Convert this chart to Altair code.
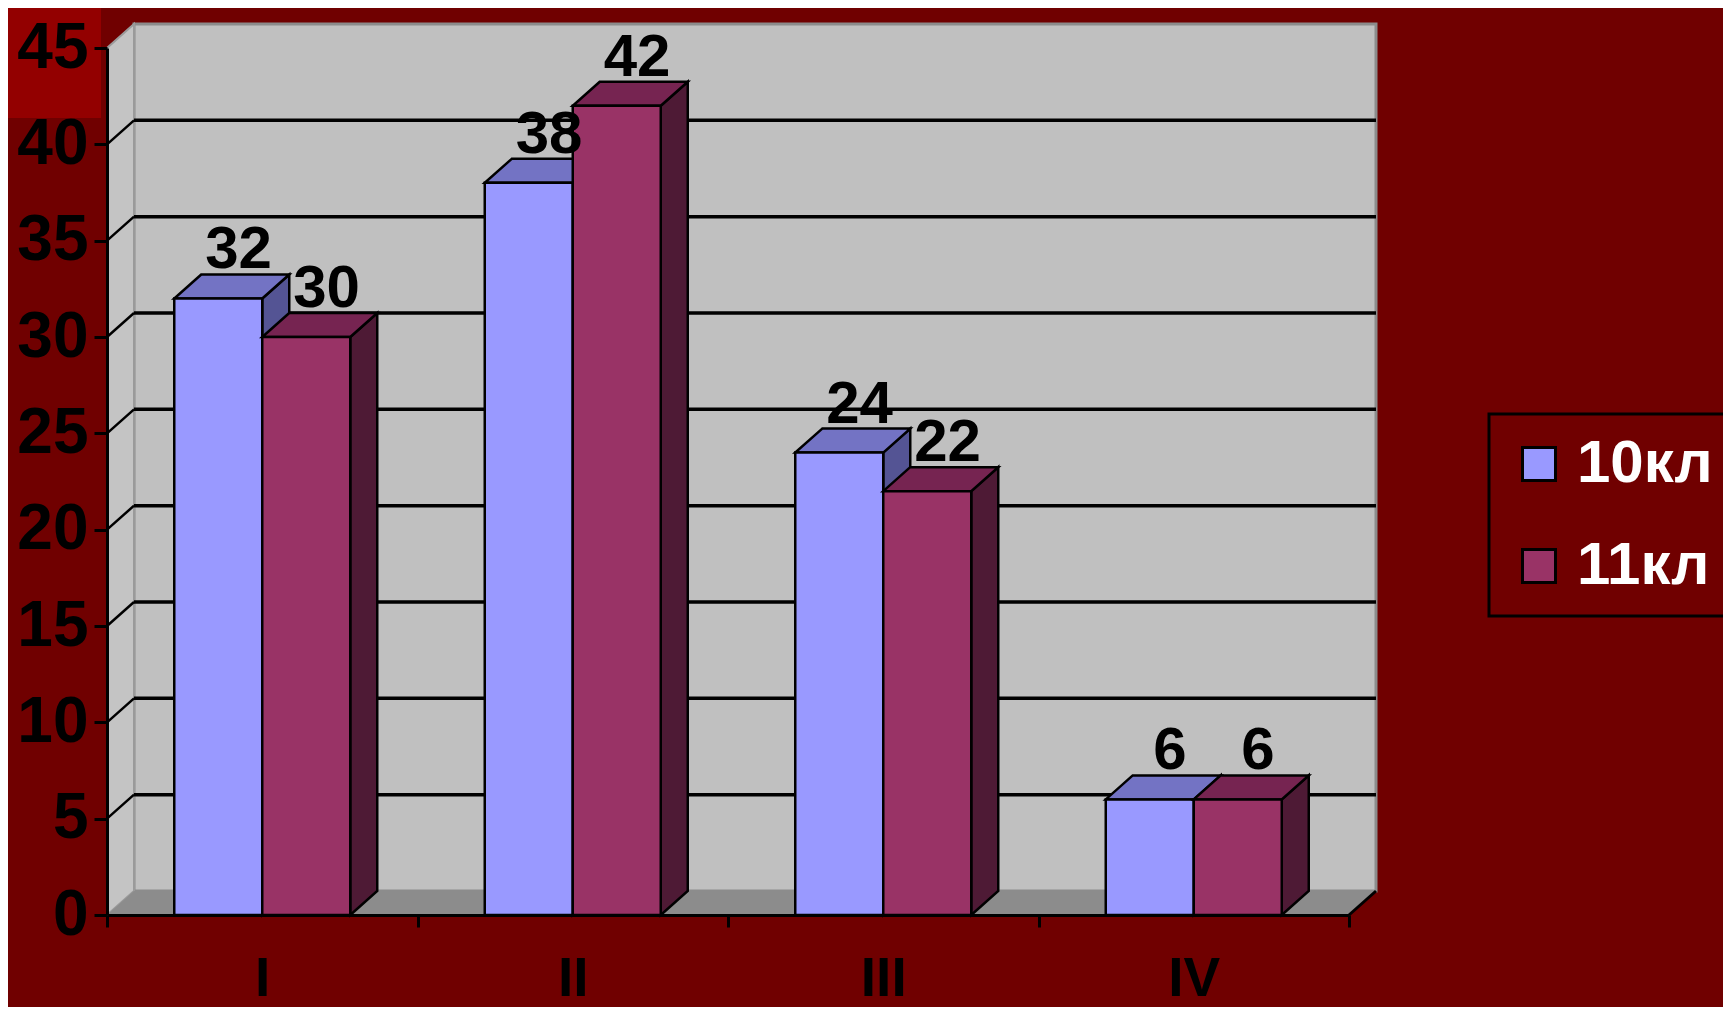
import altair as alt
import pandas as pd

# ---------------- data ----------------
categories = ["I", "II", "III", "IV"]
series = ["10кл", "11кл"]
values_10 = [32, 38, 24, 6]
values_11 = [30, 42, 22, 6]
y_ticks = [0, 5, 10, 15, 20, 25, 30, 35, 40, 45]

# ---------------- styles ----------------
front_colors = ["#9999FF", "#993366"]
top_colors = ["#7373C4", "#762451"]
side_colors = ["#545494", "#4E1A35"]
BG = "#700000"
FONT = "Liberation Sans"

W, H = 1242, 867
X_MAX = len(categories)
Y_MAX = 45
px_x = W / X_MAX
px_y = H / Y_MAX
WALL_DX = 27 / px_x
WALL_DY = 24 / px_y
BAR_DX = 27 / px_x
BAR_DY = 24 / px_y
BAR_W = 88 / px_x

xs = alt.Scale(domain=[0, X_MAX], nice=False, zero=False)
ys = alt.Scale(domain=[0, Y_MAX], nice=False, zero=False)

label_expr = "[" + ",".join(f"'{c}'" for c in categories) + "][datum.value] || ''"

XAXIS = alt.Axis(values=list(range(X_MAX + 1)), labelExpr=label_expr, title=None,
                 labelOffset=px_x / 2, labelFlush=False, labelOverlap=False,
                 labelBound=False, labelFont=FONT, labelFontSize=55,
                 labelFontWeight="bold", labelColor="black", labelPadding=25,
                 tickColor="black", tickWidth=3, tickSize=12,
                 domainColor="black", domainWidth=3, grid=False, zindex=1)
YAXIS = alt.Axis(values=y_ticks, title=None, labelFont=FONT, labelFontSize=64,
                 labelFontWeight="bold", labelColor="black", labelPadding=6,
                 labelFlush=False, labelOverlap=False, labelBound=False,
                 tickColor="black", tickWidth=3, tickSize=13,
                 domainColor="black", domainWidth=3, grid=False, zindex=1)


def X(f):
    return alt.X(f, scale=xs, axis=XAXIS, title=None)


def Y(f):
    return alt.Y(f, scale=ys, axis=YAXIS, title=None)


# ---------------- tables ----------------
bar_rows, side_rows, top_rows = [], [], []
for j, (s, vals) in enumerate(zip(series, [values_10, values_11])):
    for i, (c, v) in enumerate(zip(categories, vals)):
        x0 = i + 0.5 + (j - 1) * BAR_W
        x1 = x0 + BAR_W
        bid = f"{s}-{c}"
        bar_rows.append(dict(series=s, cat=c, value=v, x0=x0, x1=x1,
                             xl=(x0 + x1) / 2 + 0.75 * BAR_DX, yl=v + BAR_DY,
                             label=str(v)))
        side_rows.append(dict(series=s, bar=bid, x=x1, ylo=0, yhi=v))
        side_rows.append(dict(series=s, bar=bid, x=x1 + BAR_DX, ylo=BAR_DY, yhi=v + BAR_DY))
        top_rows.append(dict(series=s, bar=bid, y=v, xa=x0, xb=x1))
        top_rows.append(dict(series=s, bar=bid, y=v + BAR_DY, xa=x0 + BAR_DX, xb=x1 + BAR_DX))
bars = pd.DataFrame(bar_rows)
sides = pd.DataFrame(side_rows)
tops = pd.DataFrame(top_rows)

wall = pd.DataFrame([dict(x0=WALL_DX, x1=X_MAX + WALL_DX, y0=WALL_DY, y1=Y_MAX + WALL_DY)])
left_wall = pd.DataFrame([dict(x=0, ylo=0, yhi=Y_MAX), dict(x=WALL_DX, ylo=WALL_DY, yhi=Y_MAX + WALL_DY)])
floor = pd.DataFrame([dict(y=0, xa=0, xb=X_MAX), dict(y=WALL_DY, xa=WALL_DX, xb=X_MAX + WALL_DX)])
grid = pd.DataFrame([dict(v=v, yb=v + WALL_DY, x0=WALL_DX, x1=X_MAX + WALL_DX, xa=0, xb=WALL_DX)
                     for v in y_ticks[1:-1]])
right_edge = pd.DataFrame([dict(x=X_MAX, x2=X_MAX + WALL_DX, y=0, y2=WALL_DY)])
one = pd.DataFrame([dict(a=1)])

# ---------------- layers ----------------
deco_block = alt.Chart(one).mark_rect(color="#930000").encode(
    x=alt.value(-110), x2=alt.value(-6), y=alt.value(-50), y2=alt.value(70))

back = alt.Chart(wall).mark_rect(fill="#C0C0C0", stroke="#8C8C8C", strokeWidth=3).encode(
    x=X("x0:Q"), x2="x1:Q", y=Y("y0:Q"), y2="y1:Q")

lwall = alt.Chart(left_wall).mark_area(fill="#C4C4C4", stroke="#9A9A9A", strokeWidth=2).encode(
    x=X("x:Q"), y=Y("ylo:Q"), y2="yhi:Q")

floor_l = alt.Chart(floor).mark_area(orient="horizontal", fill="#8C8C8C").encode(
    y=Y("y:Q"), x=X("xa:Q"), x2="xb:Q")

grid_back = alt.Chart(grid).mark_rule(color="black", strokeWidth=3.5).encode(
    x=X("x0:Q"), x2="x1:Q", y=Y("yb:Q"))

grid_side = alt.Chart(grid).mark_rule(color="black", strokeWidth=2.5).encode(
    x=X("xa:Q"), x2="xb:Q", y=Y("v:Q"), y2="yb:Q")

redge = alt.Chart(right_edge).mark_rule(color="black", strokeWidth=3).encode(
    x=X("x:Q"), x2="x2:Q", y=Y("y:Q"), y2="y2:Q")

LEGEND = alt.Legend(title=None, orient="none", legendX=1382, legendY=366,
                    symbolType="square", symbolSize=1089,
                    symbolStrokeColor="black", symbolStrokeWidth=3, symbolOpacity=1,
                    labelFont=FONT, labelFontSize=60, labelFontWeight="bold",
                    labelColor="white", labelOffset=8, rowPadding=42, padding=20,
                    strokeColor="black", fillColor=BG, cornerRadius=0)

bar_layers = []
for j, s in enumerate(series):
    side = alt.Chart(sides).transform_filter(alt.datum.series == s).mark_area(
        fill=side_colors[j], stroke="black", strokeWidth=2.5, strokeJoin="miter").encode(
        x=X("x:Q"), y=Y("ylo:Q"), y2="yhi:Q", detail="bar:N")
    top = alt.Chart(tops).transform_filter(alt.datum.series == s).mark_area(
        orient="horizontal", fill=top_colors[j], stroke="black", strokeWidth=2.5,
        strokeJoin="miter").encode(
        y=Y("y:Q"), x=X("xa:Q"), x2="xb:Q", detail="bar:N")
    front = alt.Chart(bars).transform_filter(alt.datum.series == s).mark_rect(
        stroke="black", strokeWidth=2.5, opacity=1).encode(
        x=X("x0:Q"), x2="x1:Q", y=Y("value:Q"), y2=alt.datum(0),
        color=alt.Color("series:N", scale=alt.Scale(domain=series, range=front_colors),
                        legend=LEGEND))
    bar_layers += [side, top, front]

labels = alt.Chart(bars).mark_text(font=FONT, fontSize=60, fontWeight="bold", color="black",
                                   baseline="alphabetic", align="center", dy=-6).encode(
    x=X("xl:Q"), y=Y("yl:Q"), text="label:N")

chart = alt.layer(
    deco_block, back, lwall, floor_l, grid_back, grid_side, redge,
    *bar_layers, labels
).properties(
    width=W, height=H,
    padding={"left": 99, "top": 40, "right": 374, "bottom": 92},
    autosize=alt.AutoSizeParams(type="none"),
    background=BG,
).configure_view(stroke=None).configure_legend(strokeWidth=3)

chart.save("out.html", embed_options={"renderer": "svg", "actions": False})
